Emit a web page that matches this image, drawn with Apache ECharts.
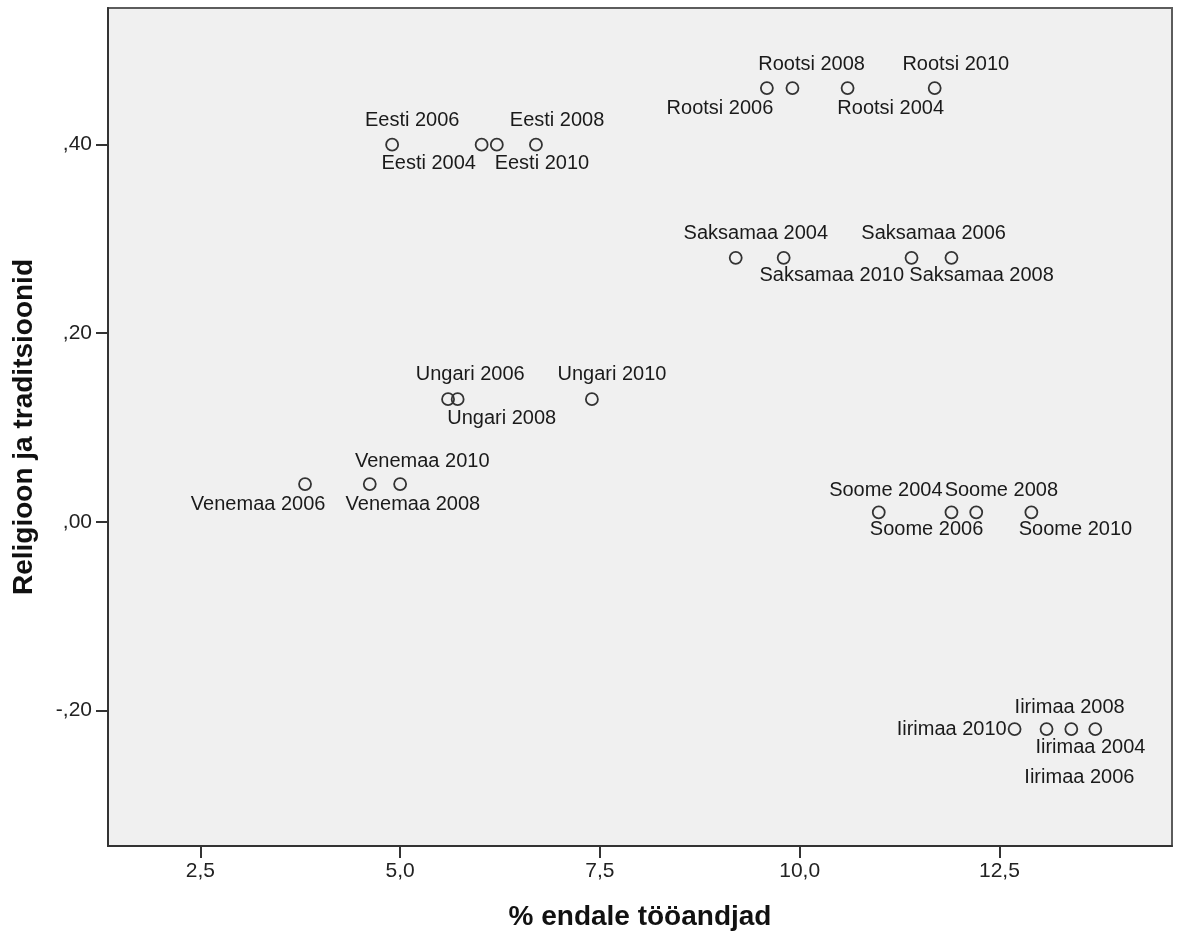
<!DOCTYPE html>
<html>
<head>
<meta charset="utf-8">
<title>Religioon ja traditsioonid vs % endale tööandjad</title>
<script src="https://cdn.jsdelivr.net/npm/echarts@6/dist/echarts.min.js"></script>
<style>
  html, body { margin: 0; padding: 0; background: #ffffff; }
  #chart { width: 1179px; height: 936px; }
</style>
</head>
<body>
<div id="chart"></div>
<script>
// Country-year observations
const pointNames = [
  'Eesti 2006', 'Eesti 2004', 'Eesti 2010', 'Eesti 2008',
  'Rootsi 2006', 'Rootsi 2008', 'Rootsi 2004', 'Rootsi 2010',
  'Saksamaa 2004', 'Saksamaa 2010', 'Saksamaa 2006', 'Saksamaa 2008',
  'Ungari 2006', 'Ungari 2008', 'Ungari 2010',
  'Venemaa 2006', 'Venemaa 2008', 'Venemaa 2010',
  'Soome 2004', 'Soome 2006', 'Soome 2008', 'Soome 2010',
  'Iirimaa 2010', 'Iirimaa 2008', 'Iirimaa 2004', 'Iirimaa 2006'
];

// % endale tööandjad
const selfEmployed = [
  4.90, 6.02, 6.21, 6.70,
  9.59, 9.91, 10.60, 11.69,
  9.20, 9.80, 11.40, 11.90,
  5.60, 5.72, 7.40,
  3.81, 4.62, 5.00,
  10.99, 11.90, 12.21, 12.90,
  12.69, 13.09, 13.40, 13.70
];

// Religioon ja traditsioonid
const religionScore = [
  0.40, 0.40, 0.40, 0.40,
  0.46, 0.46, 0.46, 0.46,
  0.28, 0.28, 0.28, 0.28,
  0.13, 0.13, 0.13,
  0.04, 0.04, 0.04,
  0.01, 0.01, 0.01, 0.01,
  -0.22, -0.22, -0.22, -0.22
];

// Axis ticks and their printed labels
const xTicks = [2.5, 5.0, 7.5, 10.0, 12.5];
const xTickLabels = ['2,5', '5,0', '7,5', '10,0', '12,5'];
const yTicks = [-0.2, 0.0, 0.2, 0.4];
const yTickLabels = ['-,20', ',00', ',20', ',40'];

// Where each point label sits relative to its marker centre: [dx, dy, align]
const labelPlacement = [
  [21, -23, 'center'], [-52, 20, 'center'], [46, 20, 'center'], [22, -23, 'center'],
  [-46, 21, 'center'], [20, -23, 'center'], [44, 21, 'center'], [22, -23, 'center'],
  [21, -23, 'center'], [49, 19, 'center'], [23, -23, 'center'], [31, 19, 'center'],
  [23, -24, 'center'], [45, 20, 'center'], [21, -24, 'center'],
  [-46, 21, 'center'], [44, 21, 'center'], [23, -22, 'center'],
  [8, -21, 'center'], [-24, 18, 'center'], [26, -21, 'center'], [45, 18, 'center'],
  [-7, 1, 'right'], [24, -21, 'center'], [20, 19, 'center'], [-15, 49, 'center']
];

const SYMBOL_SIZE = 12;
const half = SYMBOL_SIZE / 2;

const points = pointNames.map(function (name, i) {
  const p = labelPlacement[i];
  return {
    name: name,
    value: [selfEmployed[i], religionScore[i]],
    label: {
      position: [half + p[0], half + p[1]],
      align: p[2],
      verticalAlign: 'middle'
    }
  };
});

function tickText(ticks, labels) {
  return function (v) {
    for (let i = 0; i < ticks.length; i++) {
      if (Math.abs(ticks[i] - v) < 1e-6) return labels[i];
    }
    return '';
  };
}

const FONT = '"Liberation Sans", Arial, sans-serif';
const chart = echarts.init(document.getElementById('chart'), null, { renderer: 'canvas' });

chart.setOption({
  animation: false,
  backgroundColor: '#ffffff',
  grid: {
    left: 108, top: 8, right: 7, bottom: 88,
    show: true,
    backgroundColor: '#f0f0f0',
    borderColor: '#5c5c5c',
    borderWidth: 2
  },
  xAxis: {
    type: 'value',
    min: 1.344,
    max: 14.66,
    name: '% endale tööandjad',
    nameLocation: 'middle',
    nameGap: 57,
    nameTextStyle: { fontFamily: FONT, fontSize: 28, fontWeight: 'bold', color: '#111' },
    axisLine: { show: true, onZero: false, lineStyle: { color: '#333', width: 2 } },
    axisTick: { show: true, length: 12, customValues: xTicks, lineStyle: { color: '#333', width: 2 } },
    axisLabel: {
      customValues: xTicks,
      formatter: tickText(xTicks, xTickLabels),
      fontFamily: FONT, fontSize: 21, color: '#222', margin: 15
    },
    splitLine: { show: false }
  },
  yAxis: {
    type: 'value',
    min: -0.344,
    max: 0.545,
    name: 'Religioon ja traditsioonid',
    nameLocation: 'middle',
    nameRotate: 90,
    nameGap: 70,
    nameTextStyle: { fontFamily: FONT, fontSize: 28, fontWeight: 'bold', color: '#111' },
    axisLine: { show: true, onZero: false, lineStyle: { color: '#333', width: 2 } },
    axisTick: { show: true, length: 12, customValues: yTicks, lineStyle: { color: '#333', width: 2 } },
    axisLabel: {
      customValues: yTicks,
      formatter: tickText(yTicks, yTickLabels),
      fontFamily: FONT, fontSize: 21, color: '#222', margin: 16
    },
    splitLine: { show: false }
  },
  series: [{
    type: 'scatter',
    data: points,
    symbol: 'circle',
    symbolSize: SYMBOL_SIZE,
    itemStyle: { color: 'rgba(0,0,0,0)', borderColor: '#333', borderWidth: 1.8, opacity: 1 },
    label: {
      show: true,
      formatter: '{b}',
      fontFamily: FONT,
      fontSize: 20,
      color: '#1a1a1a',
      textBorderWidth: 0
    },
    emphasis: { disabled: true },
    labelLayout: { hideOverlap: false }
  }]
});
</script>
</body>
</html>
